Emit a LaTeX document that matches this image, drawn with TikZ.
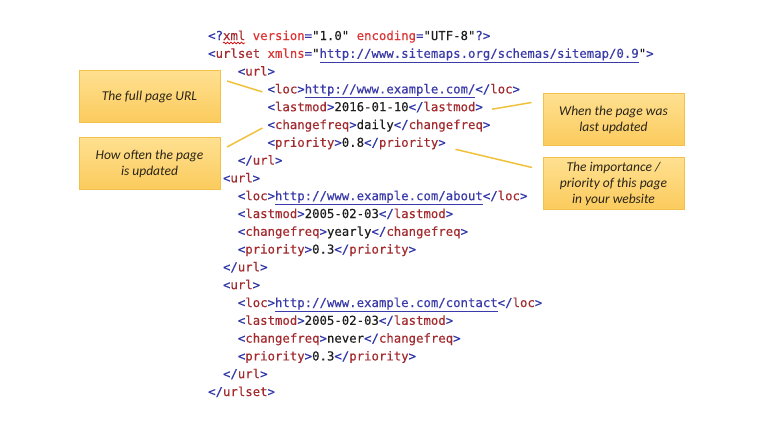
\documentclass[tikz,border=0pt]{standalone}
\usepackage{fontspec}
\newfontfamily\codefont{DejaVu Sans Mono}[FakeBold=0.3]
\newfontfamily\notefont{Carlito}
\usetikzlibrary{positioning, calc, decorations.pathmorphing}
\definecolor{xbr}{HTML}{2F35A8}
\definecolor{xel}{HTML}{A32A2E}
\definecolor{xat}{HTML}{DC3535}
\definecolor{xtx}{HTML}{1E1E1E}
\definecolor{xurl}{HTML}{3A3AA8}
\definecolor{noteedge}{HTML}{F2C14B}
\definecolor{notetop}{HTML}{FFE090}
\definecolor{notebot}{HTML}{FBCB5C}
\definecolor{notetext}{HTML}{2A2418}
\definecolor{pointline}{HTML}{F0C23C}
\newcommand{\qq}{\char34\relax}
\newcommand{\otag}[1]{\textcolor{xbr}{<}\textcolor{xel}{#1}\textcolor{xbr}{>}}
\newcommand{\ctag}[1]{\textcolor{xbr}{</}\textcolor{xel}{#1}\textcolor{xbr}{>}}
\newcommand{\link}[1]{\textcolor{xurl}{\underline{#1}}}
\tikzset{codeline/.style={anchor=base west, inner sep=0pt, text=xtx, font=\codefont\fontsize{12.33bp}{17.8bp}\selectfont}}
\tikzset{note/.style={draw=noteedge, line width=1bp, top color=notetop, bottom color=notebot, minimum width=141bp, minimum height=52bp, inner sep=2bp, align=center, text=notetext, font=\notefont\itshape\fontsize{13.5bp}{16bp}\selectfont}}
\tikzset{pointer/.style={draw=pointline, line width=1.5bp}}
\tikzset{squiggle/.style={draw=red!85!black, line width=0.7bp, decorate, decoration={snake, amplitude=0.9bp, segment length=3.5bp}}}

\begin{document}
\begin{tikzpicture}[x=1bp, y=-1bp]
	\path[fill=white, use as bounding box] (0,0) rectangle (768,424);
	%
	\node[codeline] (decl) at (208, 40.0) {\textcolor{xbr}{<?}\textcolor{xel}{xml} \textcolor{xat}{version}\textcolor{xbr}{=}\qq1.0\qq{} \textcolor{xat}{encoding}\textcolor{xbr}{=}\qq UTF-8\qq\textcolor{xbr}{?>}};
	\node[codeline] (urlset) at (208, 57.8) {\textcolor{xbr}{<}\textcolor{xel}{urlset} \textcolor{xat}{xmlns}\textcolor{xbr}{=}\qq\link{http://www.sitemaps.org/schemas/sitemap/0.9}\qq\textcolor{xbr}{>}};
	\node[codeline] (url1) at (237.7, 75.6) {\otag{url}};
	\node[codeline] (loc1) at (267.4, 93.4) {\otag{loc}\link{http://www.example.com/}\ctag{loc}};
	\node[codeline] (mod1) at (267.4, 111.2) {\otag{lastmod}2016-01-10\ctag{lastmod}};
	\node[codeline] (freq1) at (267.4, 129.0) {\otag{changefreq}daily\ctag{changefreq}};
	\node[codeline] (prio1) at (267.4, 146.8) {\otag{priority}0.8\ctag{priority}};
	\node[codeline] (eurl1) at (237.7, 164.6) {\ctag{url}};
	\node[codeline] (url2) at (222.8, 182.4) {\otag{url}};
	\node[codeline] (loc2) at (237.7, 200.2) {\otag{loc}\link{http://www.example.com/about}\ctag{loc}};
	\node[codeline] (mod2) at (237.7, 218.0) {\otag{lastmod}2005-02-03\ctag{lastmod}};
	\node[codeline] (freq2) at (237.7, 235.8) {\otag{changefreq}yearly\ctag{changefreq}};
	\node[codeline] (prio2) at (237.7, 253.6) {\otag{priority}0.3\ctag{priority}};
	\node[codeline] (eurl2) at (222.8, 271.4) {\ctag{url}};
	\node[codeline] (url3) at (222.8, 289.2) {\otag{url}};
	\node[codeline] (loc3) at (237.7, 307.0) {\otag{loc}\link{http://www.example.com/contact}\ctag{loc}};
	\node[codeline] (mod3) at (237.7, 324.8) {\otag{lastmod}2005-02-03\ctag{lastmod}};
	\node[codeline] (freq3) at (237.7, 342.6) {\otag{changefreq}never\ctag{changefreq}};
	\node[codeline] (prio3) at (237.7, 360.4) {\otag{priority}0.3\ctag{priority}};
	\node[codeline] (eurl3) at (222.8, 378.2) {\ctag{url}};
	\node[codeline] (eurlset) at (208, 396.0) {\ctag{urlset}};
	% spell-check mark under xml
	\draw[squiggle] ([shift={(14.84,3)}]decl.base west) -- ++(22.26,0);
	%
	\node[note] (full) at (149.5, 96.5) {The full page URL};
	\node[note, below=14bp of full] (often) {How often the page\\is updated};
	\node[note] (when) at (613.5, 119.5) {When the page was\\last updated};
	\node[note, below=11bp of when] (import) {The importance /\\priority of this page\\in your website};
	%
	\draw[pointer] ([shift={(6.5,11)}]full.north east) -- ([shift={(-5,-1.5)}]loc1.base west);
	\draw[pointer] ([shift={(6.5,10)}]often.north east) -- ([shift={(-5,-1)}]freq1.base west);
	\draw[pointer] ([shift={(9,-2)}]mod1.base east) -- ([shift={(-11,9.5)}]when.north west);
	\draw[pointer] ([shift={(9.5,2.5)}]prio1.base east) -- ([shift={(-10.5,10.5)}]import.north west);
\end{tikzpicture}
\end{document}
